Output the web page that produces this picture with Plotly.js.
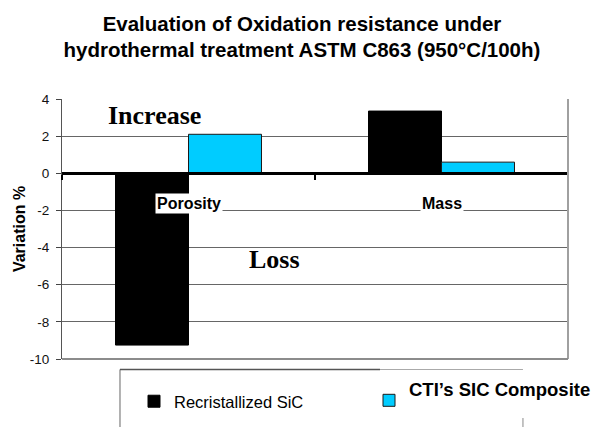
<!DOCTYPE html>
<html>
<head>
<meta charset="utf-8">
<script src="https://cdn.plot.ly/plotly-3.0.1.min.js"></script>
<style>html,body{margin:0;padding:0;background:#fff;}#chart{width:598px;height:427px;}</style>
</head>
<body>
<div id="chart"></div>
<script>
// ---- data ----
var categories = ["Porosity", "Mass"];
var seriesNames = ["Recristallized SiC", "CTI’s SIC Composite"];
var recristallized = [-9.25, 3.35];
var ctiComposite = [2.1, 0.6];
var yTickVals = [-10, -8, -6, -4, -2, 0, 2, 4];
var yRange = [-10, 4];
var titleText = "Evaluation of Oxidation resistance under<br>hydrothermal treatment ASTM C863 (950°C/100h)";
var yTitle = "Variation %";
var noteIncrease = "Increase";
var noteLoss = "Loss";

var FONT = "Liberation Sans, Arial, sans-serif";
var SERIF = "Liberation Serif, Times New Roman, serif";

var traces = [
  {type: "bar", name: seriesNames[0], x: categories, y: recristallized, legend: "legend",
   marker: {color: "#000000", line: {color: "#000000", width: 1}}},
  {type: "bar", name: "<span style=\"font-size:18.5px\"><b>" + seriesNames[1] + "</b></span><br>&nbsp;",
   x: categories, y: ctiComposite, legend: "legend2",
   marker: {color: "#00CCFF", line: {color: "#1a1a1a", width: 1}}}
];

var zeroPos = (0 - yRange[0]) / (yRange[1] - yRange[0]);

var annotations = categories.map(function (c) {
  return {x: c, y: -1.6, xref: "x", yref: "y", text: "<b>" + c + "</b>", showarrow: false,
          font: {family: FONT, size: 16, color: "#000"}, bgcolor: "#ffffff", borderpad: 1,
          xanchor: "center", yanchor: "middle"};
});
annotations.push({x: 0.183, y: 3.1, xref: "paper", yref: "y", text: "<b>" + noteIncrease + "</b>", showarrow: false,
  font: {family: SERIF, size: 26, color: "#000"}, xanchor: "center", yanchor: "middle"});
annotations.push({x: 0.42, y: -4.65, xref: "paper", yref: "y", text: "<b>" + noteLoss + "</b>", showarrow: false,
  font: {family: SERIF, size: 26, color: "#000"}, xanchor: "center", yanchor: "middle"});

var shapes = [
  {type: "line", xref: "paper", yref: "paper", x0: 1, x1: 1, y0: 0, y1: 1, line: {color: "#a0a0a0", width: 2}},
  {type: "line", xref: "paper", yref: "paper", x0: 0, x1: 1, y0: 0, y1: 0, line: {color: "#8c8c8c", width: 2}},
  // legend frame
  {type: "line", xref: "paper", yref: "paper", x0: 0.1146, x1: 0.1146, y0: -0.0404, y1: -0.27, line: {color: "#666", width: 1}},
  {type: "line", xref: "paper", yref: "paper", x0: 0.1146, x1: 0.6285, y0: -0.0404, y1: -0.0404, line: {color: "#555", width: 1.5}},
  {type: "line", xref: "paper", yref: "paper", x0: 0.6285, x1: 0.911, y0: -0.0404, y1: -0.0404, line: {color: "#aaa", width: 1}},
  {type: "line", xref: "paper", yref: "paper", x0: 0.911, x1: 0.911, y0: -0.227, y1: -0.27, line: {color: "#888", width: 1}}
];

var W = 598, H = 427;
var layout = {
  width: W, height: H,
  margin: {l: 62, r: 30, t: 99, b: 68, autoexpand: false},
  paper_bgcolor: "#fff", plot_bgcolor: "#fff",
  font: {family: FONT, color: "#000"},
  title: {text: "<b>" + titleText + "</b>", font: {family: FONT, size: 20.5, color: "#000"},
          x: 0.505, xref: "container", xanchor: "center", y: 0.928, yref: "container", yanchor: "top"},
  barmode: "group", bargap: 0.423, bargroupgap: 0,
  xaxis: {type: "category", range: [-0.5, 1.5], anchor: "free", position: zeroPos,
          showline: true, linecolor: "#000", linewidth: 2.5, ticks: "outside", tickson: "boundaries",
          ticklen: 5, tickcolor: "#000", tickwidth: 1.5, showticklabels: false, showgrid: false, zeroline: false},
  yaxis: {range: yRange, tickvals: yTickVals, ticktext: yTickVals.map(String), ticks: "outside", ticklen: 5,
          tickcolor: "#444", showline: true, linecolor: "#555", linewidth: 1, gridcolor: "#666", gridwidth: 1,
          zeroline: false, ticklabelstandoff: 4, tickfont: {family: FONT, size: 13.5, color: "#111"},
          title: {text: "<b>" + yTitle + "</b>", font: {family: FONT, size: 16, color: "#000"}, standoff: 0}},
  showlegend: true,
  legend: {orientation: "h", x: 134 / W, xref: "container", xanchor: "left", y: 1 - 384 / H, yref: "container", yanchor: "top",
           font: {family: FONT, size: 16.5, color: "#000"}, bgcolor: "rgba(0,0,0,0)", borderwidth: 0},
  legend2: {orientation: "h", x: 369 / W, xref: "container", xanchor: "left", y: 1 - 373 / H, yref: "container", yanchor: "top",
           font: {family: FONT, size: 16, color: "#000"}, bgcolor: "rgba(0,0,0,0)", borderwidth: 0},
  annotations: annotations,
  shapes: shapes
};

Plotly.newPlot("chart", traces, layout, {displayModeBar: false, staticPlot: true});
</script>
</body>
</html>
